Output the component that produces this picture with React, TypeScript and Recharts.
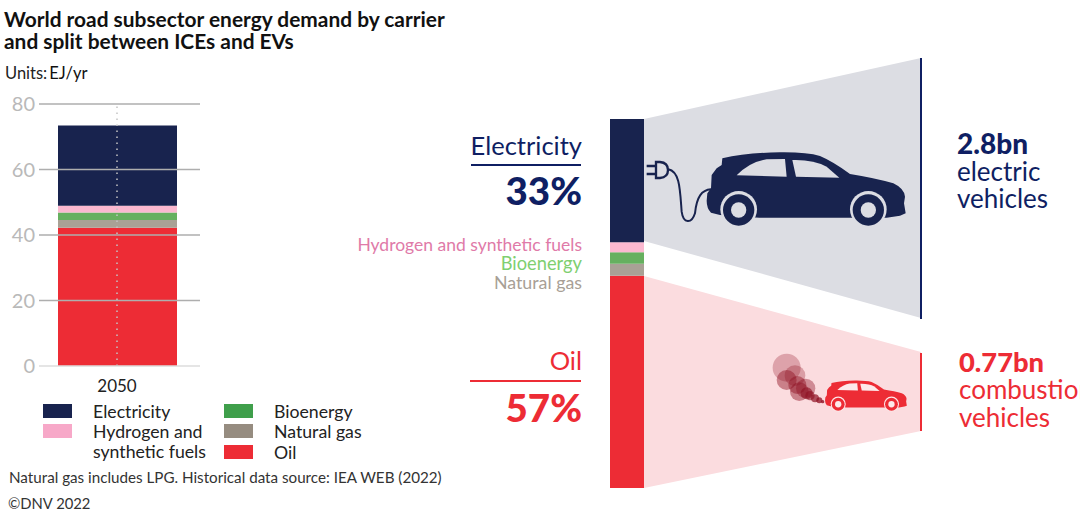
import React from "react";
import { BarChart, Bar, XAxis, YAxis, ReferenceLine } from "recharts";

const years = ["2050"];
const oil = [42.2];
const naturalGas = [2.4];
const bioenergy = [2.3];
const hydrogen = [2.0];
const electricity = [24.5];
const yTicks = [0, 20, 40, 60, 80];

const rows = years.map((year, i) => ({
  year,
  oil: oil[i],
  naturalGas: naturalGas[i],
  bioenergy: bioenergy[i],
  hydrogen: hydrogen[i],
  electricity: electricity[i],
}));
const total = oil[0] + naturalGas[0] + bioenergy[0] + hydrogen[0] + electricity[0];

const NAVY = "#18234e";
const INK = "#0f1f63";
const RED = "#ed2c35";
const FONT = "Lato, 'Noto Sans', sans-serif";

const series = [
  { key: "oil", color: RED },
  { key: "naturalGas", color: "#a9a195" },
  { key: "bioenergy", color: "#66b05f" },
  { key: "hydrogen", color: "#fbb8d0" },
  { key: "electricity", color: NAVY },
];

const legendEntries = [
  { label: ["Electricity"], color: NAVY, x: 43, y: 404 },
  { label: ["Hydrogen and", "synthetic fuels"], color: "#f7a8c8", x: 43, y: 424 },
  { label: ["Bioenergy"], color: "#3f9f4b", x: 224, y: 404 },
  { label: ["Natural gas"], color: "#968c80", x: 224, y: 424 },
  { label: ["Oil"], color: RED, x: 224, y: 445 },
];

function Car({ tx, ty, s, fill, bg }: { tx: number; ty: number; s: number; fill: string; bg: string }) {
  const wheels = [416, 805];
  return (
    <g transform={`translate(${tx},${ty}) scale(${s})`}>
      <path
        fill={fill}
        d="M320,452 L322,430 L333,415 L335,375 L350,355 L365,345 L367,325 Q440,308 540,307 Q620,306 660,318 Q700,335 750,372 Q830,385 880,400 Q912,415 915,440 L912,460 L917,490 L900,497 L860,503 L478,503 L360,495 L333,488 Q320,475 320,452 Z"
      />
      <path fill={bg} d="M410,376 Q450,335 500,328 L555,327 L560,380 Z" />
      <path fill={bg} d="M577,330 Q640,328 680,350 L718,383 L588,380 Z" />
      {wheels.map((cx) => (
        <g key={cx}>
          <circle cx={cx} cy={478} r={55} fill={bg} />
          <circle cx={cx} cy={480} r={47} fill={fill} />
          <circle cx={cx} cy={480} r={23} fill={bg} />
        </g>
      ))}
    </g>
  );
}

const smoke = [
  [140, 113, 42, 0.28],
  [140, 150, 30, 0.45],
  [165, 137, 31, 0.3],
  [172, 165, 27, 0.45],
  [197, 175, 29, 0.4],
  [178, 185, 28, 0.45],
  [200, 190, 18, 0.6],
  [210, 197, 14, 0.6],
  [225, 205, 12, 0.7],
  [238, 211, 9, 0.75],
  [248, 215, 5, 0.8],
];

function Backdrop() {
  const T = (p: any) => <text fontFamily={FONT} {...p} />;
  return (
    <svg width={1080} height={516} style={{ position: "absolute", left: 0, top: 0 }}>
      <polygon points="644,119 921,58 921,318 644,241" fill="#dcdde3" />
      <polygon points="644,276 921,352 921,431 644,488" fill="#fbdcdf" />
      <line x1={921} y1={58} x2={921} y2={319} stroke={INK} strokeWidth={2} />
      <line x1={921} y1={353} x2={921} y2={431} stroke={RED} strokeWidth={2} />

      <Car tx={600} ty={50} s={1 / 3} fill={NAVY} bg="#dcdde3" />
      <g transform="translate(600,50) scale(0.3333)" fill="none" stroke={NAVY}>
        <path strokeWidth={7} d="M140,348 L168,348 M140,372 L168,372" />
        <path strokeWidth={7} d="M168,336 L180,336 Q204,338 204,360 Q204,382 180,384 L168,384 Z" />
        <path strokeWidth={6} d="M205,358 C240,365 240,420 245,485 C250,522 275,522 285,490 C290,440 305,420 333,418" />
      </g>

      <g transform="translate(740,330) scale(0.3333)">
        {smoke.map(([cx, cy, r, a]) => (
          <circle key={`${cx}-${cy}`} cx={cx} cy={cy} r={r} fill="#8e0f22" fillOpacity={a} />
        ))}
      </g>
      <Car tx={781.2} ty={338.5} s={0.137} fill={RED} bg="#fde9ea" />

      <T x={4} y={27} fontSize={20.9} fontWeight={700} fill="#111">World road subsector energy demand by carrier</T>
      <T x={4} y={49} fontSize={20.9} fontWeight={700} fill="#111">and split between ICEs and EVs</T>
      <T x={5} y={79} fontSize={16.5} fill="#222">Units:<tspan dx={2} fill="#111">EJ/yr</tspan></T>

      <T x={582} y={155} fontSize={25.5} textAnchor="end" fill={INK}>Electricity</T>
      <line x1={471} x2={581} y1={165} y2={165} stroke={INK} strokeWidth={2} />
      <T x={582} y={205} fontSize={38.5} fontWeight={900} textAnchor="end" fill={INK}>33%</T>
      <T x={582} y={251} fontSize={17.5} textAnchor="end" fill="#e07aa8">Hydrogen and synthetic fuels</T>
      <T x={582} y={270} fontSize={18.3} textAnchor="end" fill="#7fcf70">Bioenergy</T>
      <T x={582} y={289} fontSize={17.8} textAnchor="end" fill="#a89f96">Natural gas</T>
      <T x={582} y={370} fontSize={25.5} textAnchor="end" fill={RED}>Oil</T>
      <line x1={470} x2={581} y1={381} y2={381} stroke={RED} strokeWidth={2} />
      <T x={582} y={422} fontSize={38.5} fontWeight={900} textAnchor="end" fill={RED}>57%</T>

      <T x={957} y={154} fontSize={28} fontWeight={900} fill={INK}>2.8bn</T>
      <T x={957} y={181} fontSize={26} fill={INK}>electric</T>
      <T x={957} y={208} fontSize={26} fill={INK}>vehicles</T>
      <T x={959} y={372} fontSize={27.3} fontWeight={900} fill={RED}>0.77bn</T>
      <T x={959} y={399} fontSize={26} fill={RED}>combustion</T>
      <T x={959} y={427} fontSize={26} fill={RED}>vehicles</T>

      <T x={9} y={483} fontSize={15.2} fill="#333">Natural gas includes LPG. Historical data source: IEA WEB (2022)</T>
      <T x={8} y={509} fontSize={14.8} fill="#333">©DNV 2022</T>
    </svg>
  );
}

function LegendBlock() {
  return (
    <>
      {legendEntries.map((e) => (
        <div key={e.label[0]}>
          <div style={{ position: "absolute", left: e.x, top: e.y, width: 29, height: 14, background: e.color }} />
          {e.label.map((line, i) => (
            <div
              key={line}
              style={{
                position: "absolute",
                left: e.x + 50,
                top: e.y - 2 + i * 20,
                font: `17.7px/20px ${FONT}`,
                color: "#222",
                whiteSpace: "nowrap",
              }}
            >
              {line}
            </div>
          ))}
        </div>
      ))}
    </>
  );
}

export default function App() {
  return (
    <div style={{ position: "fixed", left: 0, top: 0, width: 1080, height: 516, overflow: "hidden", background: "#fff" }}>
      <Backdrop />
      <div style={{ position: "absolute", left: 0, top: 0 }}>
        <BarChart width={215} height={400} data={rows} margin={{ top: 104, right: 15, bottom: 0, left: 0 }}>
          <XAxis
            dataKey="year"
            axisLine={false}
            tickLine={false}
            height={34}
            padding={{ left: 0, right: 5 }}
            tickMargin={8}
            tick={{ fill: "#222", fontSize: 17, fontFamily: FONT }}
          />
          <YAxis
            width={39}
            domain={[0, 80]}
            ticks={yTicks}
            axisLine={false}
            tickLine={false}
            tickSize={0}
            tickMargin={4}
            tick={{ fill: "#b9b9b9", fontSize: 20, fontFamily: FONT }}
          />
          {series.map((s) => (
            <Bar key={s.key} dataKey={s.key} stackId="a" fill={s.color} barSize={119} isAnimationActive={false} />
          ))}
          {yTicks.map((t) => (
            <ReferenceLine key={t} y={t} stroke={t === 0 ? "#dcdcdc" : "#aeaeae"} strokeWidth={1.5} />
          ))}
          <ReferenceLine x="2050" stroke="#c4c4c4" strokeWidth={1.5} strokeDasharray="1.5 4.5" />
        </BarChart>
      </div>
      <div style={{ position: "absolute", left: 610, top: 119 }}>
        <BarChart width={34} height={369} data={rows} margin={{ top: 0, right: 0, bottom: 0, left: 0 }} barCategoryGap={0}>
          <XAxis dataKey="year" hide />
          <YAxis hide domain={[0, total]} />
          {series.map((s) => (
            <Bar key={s.key} dataKey={s.key} stackId="a" fill={s.color} isAnimationActive={false} />
          ))}
        </BarChart>
      </div>
      <LegendBlock />
    </div>
  );
}
